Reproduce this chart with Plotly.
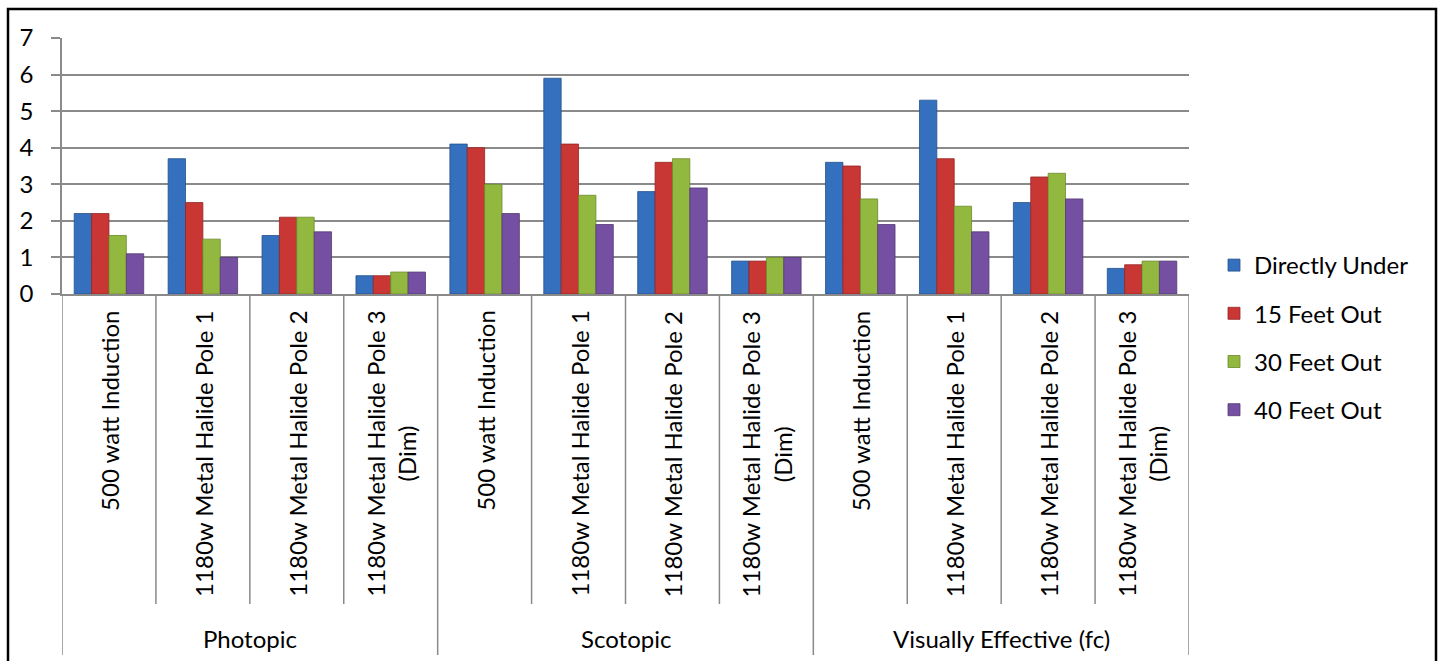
import plotly.graph_objects as go

# Light-level readings (fc) by measurement type, fixture and distance from pole
groups = ["Photopic", "Scotopic", "Visually Effective (fc)"]
fixtures = [
    "500 watt Induction",
    "1180w Metal Halide Pole 1",
    "1180w Metal Halide Pole 2",
    "1180w Metal Halide Pole 3<br>(Dim)",
]
series_names = ["Directly Under", "15 Feet Out", "30 Feet Out", "40 Feet Out"]

directly_under = [2.2, 3.7, 1.6, 0.5, 4.1, 5.9, 2.8, 0.9, 3.6, 5.3, 2.5, 0.7]
feet_15_out = [2.2, 2.5, 2.1, 0.5, 4.0, 4.1, 3.6, 0.9, 3.5, 3.7, 3.2, 0.8]
feet_30_out = [1.6, 1.5, 2.1, 0.6, 3.0, 2.7, 3.7, 1.0, 2.6, 2.4, 3.3, 0.9]
feet_40_out = [1.1, 1.0, 1.7, 0.6, 2.2, 1.9, 2.9, 1.0, 1.9, 1.7, 2.6, 0.9]

series_values = [directly_under, feet_15_out, feet_30_out, feet_40_out]
colors = ["#3470BD", "#C93734", "#93B840", "#7550A2"]
outlines = ["#24508C", "#962523", "#6C8A2A", "#533873"]

# ---- page geometry (pixels) ----
W, H = 1442, 661
PL, PR, PT, PB = 62, 1189, 38, 294  # plot area edges
FONT = "Lato"
FS = 24
GRID = "#8A8A8A"


def py(ypx):
    """Pixel row -> paper y."""
    return (PB - ypx) / (PB - PT)


def pxx(xpx):
    """Pixel column -> paper x."""
    return (xpx - PL) / (PR - PL)


n_cat = len(groups) * len(fixtures)
positions = list(range(n_cat))

fig = go.Figure()
for i, (name, vals) in enumerate(zip(series_names, series_values)):
    fig.add_trace(go.Bar(
        x=positions,
        y=vals,
        name=name,
        legendgroup=name,
        marker=dict(color=colors[i], line=dict(color=outlines[i], width=0.8)),
        hovertemplate="%{y}<extra>" + name + "</extra>",
    ))

shapes = []
annotations = []

# category separators below the axis
for k in range(n_cat + 1):
    is_group_edge = k % len(fixtures) == 0
    shapes.append(dict(
        type="line", xref="x", yref="paper",
        x0=k - 0.5, x1=k - 0.5,
        y0=0, y1=py(655 if is_group_edge else 604),
        line=dict(color=GRID, width=1.5), layer="above",
    ))

# inner (fixture) labels, rotated
for g_i, g in enumerate(groups):
    for f_i, f in enumerate(fixtures):
        annotations.append(dict(
            x=g_i * len(fixtures) + f_i, xref="x",
            y=py(310), yref="paper",
            text=f, textangle=-90, showarrow=False,
            xanchor="center", yanchor="top", align="center",
            font=dict(family=FONT, size=FS, color="black"),
            borderpad=0,
        ))
    # outer (group) labels
    annotations.append(dict(
        x=g_i * len(fixtures) + (len(fixtures) - 1) / 2, xref="x",
        y=py(638), yref="paper",
        text=g, showarrow=False,
        xanchor="center", yanchor="middle",
        font=dict(family=FONT, size=FS, color="black"),
    ))

# chart border
shapes.append(dict(
    type="rect", xref="paper", yref="paper",
    x0=pxx(8), x1=pxx(1436), y0=py(9), y1=py(700),
    line=dict(color="black", width=2.5), layer="above",
))

fig.update_layout(
    width=W, height=H,
    margin=dict(l=PL, r=W - PR, t=PT, b=H - PB, pad=0),
    paper_bgcolor="white", plot_bgcolor="white",
    barmode="group", bargap=0.26, bargroupgap=0,
    font=dict(family=FONT, size=FS, color="black"),
    xaxis=dict(
        range=[-0.5, n_cat - 0.5], showticklabels=False, ticks="",
        showgrid=False, zeroline=False,
        showline=True, linecolor=GRID, linewidth=1.5,
    ),
    yaxis=dict(
        range=[0, 7], dtick=1, tick0=0,
        showgrid=True, gridcolor=GRID, gridwidth=1.5,
        zeroline=False, showline=True, linecolor=GRID, linewidth=1.5,
        ticks="outside", ticklen=9, tickcolor=GRID, tickwidth=1.5,
        ticklabelstandoff=13,
        tickfont=dict(family=FONT, size=FS, color="black"),
    ),
    legend=dict(
        x=pxx(1214), y=py(243), xanchor="left", yanchor="top",
        xref="paper", yref="paper",
        font=dict(family=FONT, size=FS, color="black"),
        tracegroupgap=14, itemwidth=30, bgcolor="rgba(0,0,0,0)",
    ),
    shapes=shapes,
    annotations=annotations,
    showlegend=True,
)

fig.write_html("out.html")
